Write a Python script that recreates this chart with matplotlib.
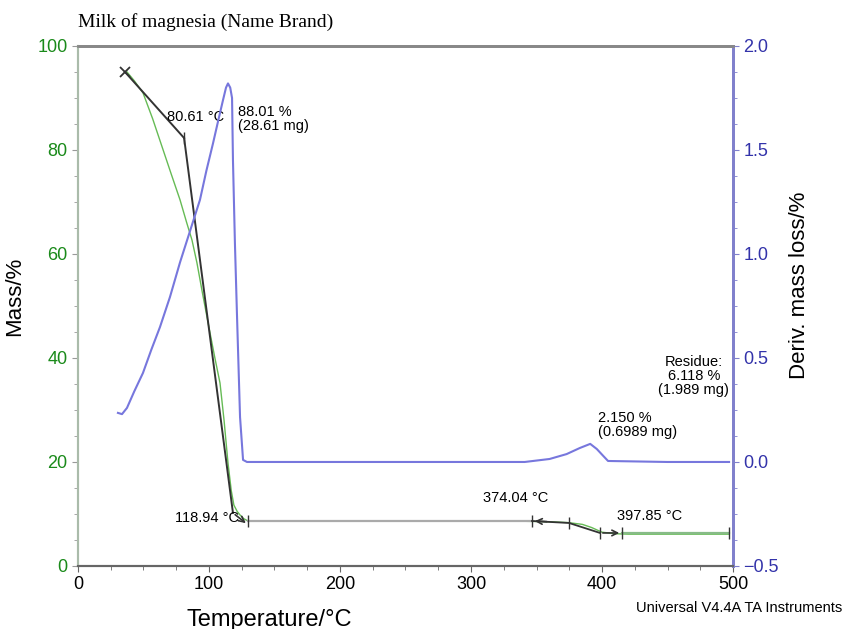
import numpy as np
import matplotlib; matplotlib.use('Agg'); import matplotlib.pyplot as plt
from matplotlib.ticker import AutoMinorLocator, MultipleLocator

plt.rcParams['font.family'] = ['Liberation Sans', 'DejaVu Sans']

# mass curve (TGA), temperature in C, mass in %
mass_T = [37.4, 43.0, 49.6, 57.0, 65.0, 71.0, 77.9, 83.0, 87.0, 90.8, 95.0, 100.8, 104.5, 108.4, 111.5, 114.5, 117.0, 119.0,
          121.5, 123.7, 126.5, 129.8, 200, 300, 340, 360, 374, 385, 392, 400, 410, 420, 497]
mass_M = [95.0, 93.3, 91.0, 86.0, 80.0, 75.5, 70.4, 66.0, 62.7, 58.3, 52.5, 44.8, 40.0, 35.2, 28.0, 19.8, 14.5, 11.7,
          10.5, 9.8, 9.1, 8.65, 8.65, 8.65, 8.6, 8.5, 8.35, 8.0, 7.4, 6.5, 6.2, 6.12, 6.12]

# derivative curve (DTG), % per C
der_T = [30.5, 33.6, 37.4, 43.0, 49.6, 56.0, 62.6, 70.2, 77.9, 85.5, 93.1, 98.0, 103.0, 107.0, 110.7, 113.0, 114.5, 116.2,
         117.6, 118.3, 119.8, 121.4, 123.7, 126.0, 129.0, 200, 300, 341, 360, 373, 383, 391, 396, 401, 404.6, 450, 497]
der_D = [0.236, 0.230, 0.26, 0.34, 0.428, 0.54, 0.649, 0.793, 0.96, 1.11, 1.26, 1.40, 1.53, 1.64, 1.74, 1.80, 1.82, 1.80,
         1.75, 1.45, 1.05, 0.70, 0.216, 0.01, 0.0, 0.0, 0.0, 0.0, 0.0144, 0.038, 0.067, 0.087, 0.0625, 0.0288, 0.0048, 0.0, 0.0]

# onset construction lines
tan1_T = [35.9, 81.0]; tan1_M = [95.0, 82.3]
tan2_T = [81.0, 118.3]; tan2_M = [82.3, 10.2]
step1_T = [129.8, 346.6]; step1_M = [8.65, 8.65]
step2_T = [346.6, 374.8, 398.5]; step2_M = [8.65, 8.27, 6.35]
step3_T = [415.3, 497.0]; step3_M = [6.35, 6.35]

fig = plt.figure(figsize=(8.44, 6.29), dpi=100)
ax = fig.add_axes([0.0924, 0.1002, 0.7761, 0.8267])
ax2 = ax.twinx()

ax.plot(mass_T, mass_M, color='#66bb55', lw=1.0, zorder=2)
ax.plot(tan1_T, tan1_M, color='#333333', lw=1.4, zorder=3)
ax.plot(tan2_T, tan2_M, color='#333333', lw=1.4, zorder=3)
ax.plot(tan1_T[0], tan1_M[0], marker='x', ms=7, color='#333333', mew=1.3)
ax.plot(step1_T, step1_M, color='#aaaaaa', lw=1.6, zorder=3)
ax.plot(step2_T, step2_M, color='#333333', lw=1.3, zorder=3)
ax.plot(step3_T, step3_M, color='#88bb88', lw=1.6, zorder=3)
for t, m in [(81.0, 82.3), (129.8, 8.65), (346.6, 8.65), (374.8, 8.27), (398.5, 6.35), (415.3, 6.35), (497.0, 6.35)]:
    ax.plot(t, m, marker='|', ms=9, color='#333333', mew=1.0, zorder=4)
ax.annotate('', xy=(129.8, 7.9), xytext=(118.3, 10.2),
            arrowprops=dict(arrowstyle='->', color='#333333', lw=1.2))
ax.annotate('', xy=(415.3, 6.35), xytext=(398.5, 6.35),
            arrowprops=dict(arrowstyle='->', color='#333333', lw=1.2))
ax.annotate('', xy=(346.6, 8.65), xytext=(360, 8.5),
            arrowprops=dict(arrowstyle='->', color='#333333', lw=1.2))

ax2.plot(der_T, der_D, color='#7777dd', lw=1.5, zorder=2)

ax.set_xlim(0, 500); ax.set_ylim(0, 100)
ax2.set_ylim(-0.5, 2.0)
ax.xaxis.set_major_locator(MultipleLocator(100)); ax.xaxis.set_minor_locator(AutoMinorLocator(4))
ax.yaxis.set_major_locator(MultipleLocator(20)); ax.yaxis.set_minor_locator(AutoMinorLocator(4))
ax2.yaxis.set_major_locator(MultipleLocator(0.5)); ax2.yaxis.set_minor_locator(AutoMinorLocator(4))

ax.tick_params(axis='y', colors='#999999', labelcolor='#1a8a1a', labelsize=13, length=4)
ax.tick_params(axis='y', which='minor', colors='#999999', length=3)
ax.tick_params(axis='x', colors='#666666', labelcolor='black', labelsize=13, length=4)
ax.tick_params(axis='x', which='minor', colors='#666666', length=3)
ax2.tick_params(axis='y', colors='#8080cc', labelcolor='#3333aa', labelsize=13, length=4)
ax2.tick_params(axis='y', which='minor', colors='#8080cc', length=3)
ax2.set_yticks([-0.5, 0.0, 0.5, 1.0, 1.5, 2.0])
ax2.set_yticklabels(['\u22120.5', '0.0', '0.5', '1.0', '1.5', '2.0'])

for a in (ax, ax2):
    a.spines['top'].set_color('#888888'); a.spines['top'].set_linewidth(2.0)
    a.spines['left'].set_color('#aabbaa'); a.spines['left'].set_linewidth(1.5)
    a.spines['bottom'].set_color('#666666'); a.spines['bottom'].set_linewidth(1.5)
    a.spines['right'].set_color('#8080cc'); a.spines['right'].set_linewidth(2.0)

ax.set_xlabel('Temperature/\u00b0C', fontsize=17)
ax.xaxis.set_label_coords(0.2916, -0.082)
ax.set_ylabel('Mass/%', fontsize=16)
ax.yaxis.set_label_coords(-0.081, 0.519)
ax2.set_ylabel('Deriv. mass loss/%', fontsize=16, rotation=90)
ax2.yaxis.set_label_coords(1.085, 0.54)

fig.text(78/844, 1 - 22/629, 'Milk of magnesia (Name Brand)', family='Liberation Serif', fontsize=14, va='center', ha='left')
fig.text(842/844, 1 - 608/629, 'Universal V4.4A TA Instruments', fontsize=10.5, va='center', ha='right')

fs = 10.5
ax.text(90.0, 86.3, '80.61 \u00b0C', fontsize=fs, ha='center', va='center')
ax.text(122.5, 86.0, '88.01 %\n(28.61 mg)', fontsize=fs, ha='left', va='center', linespacing=1.0)
ax.text(123, 9.3, '118.94 \u00b0C', fontsize=fs, ha='right', va='center')
ax.text(334, 13.0, '374.04 \u00b0C', fontsize=fs, ha='center', va='center')
ax.text(436.5, 9.6, '397.85 \u00b0C', fontsize=fs, ha='center', va='center')
ax.text(397, 27.2, '2.150 %\n(0.6989 mg)', fontsize=fs, ha='left', va='center', linespacing=1.0)
ax.text(470, 36.5, 'Residue:\n6.118 %\n(1.989 mg)', fontsize=fs, ha='center', va='center', linespacing=1.0)

fig.savefig('out.png', dpi=100)
